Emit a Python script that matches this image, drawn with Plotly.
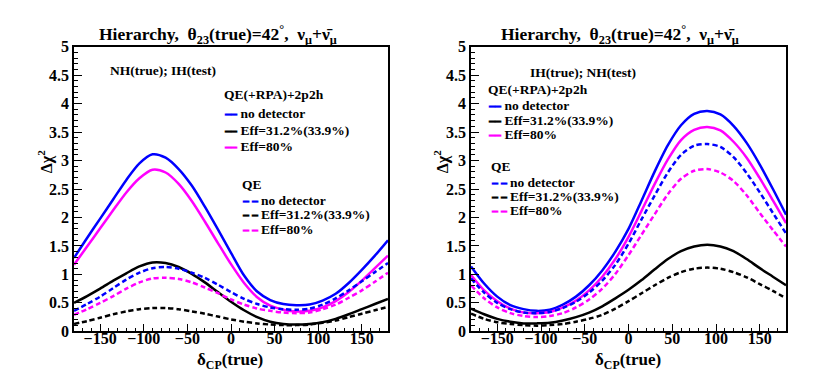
import plotly.graph_objects as go

# delta_CP(true) sample points, degrees
delta_cp = [-180, -165, -150, -135, -120, -105, -90, -75, -60, -45, -30, -15, 0,
            15, 30, 45, 60, 75, 90, 105, 120, 135, 150, 165, 180]

# left panel: NH(true); IH(test)
nh_full_nodet = [1.29, 1.64, 1.98, 2.32, 2.66, 2.95, 3.11, 3.05, 2.85, 2.56, 2.19, 1.79, 1.38,
                 0.98, 0.70, 0.55, 0.48, 0.46, 0.47, 0.54, 0.66, 0.85, 1.08, 1.33, 1.60]
nh_full_eff31 = [0.50, 0.62, 0.75, 0.89, 1.02, 1.14, 1.21, 1.20, 1.13, 1.01, 0.86, 0.69, 0.52,
                 0.37, 0.25, 0.17, 0.13, 0.12, 0.13, 0.16, 0.22, 0.30, 0.39, 0.48, 0.57]
nh_full_eff80 = [1.17, 1.49, 1.81, 2.13, 2.44, 2.69, 2.84, 2.79, 2.59, 2.29, 1.93, 1.55, 1.18,
                 0.85, 0.60, 0.45, 0.38, 0.35, 0.36, 0.42, 0.53, 0.69, 0.89, 1.11, 1.33]
nh_qe_nodet = [0.36, 0.48, 0.61, 0.76, 0.91, 1.03, 1.11, 1.13, 1.10, 1.03, 0.94, 0.82, 0.69,
               0.57, 0.48, 0.42, 0.39, 0.38, 0.40, 0.47, 0.58, 0.72, 0.88, 1.04, 1.20]
nh_qe_eff31 = [0.13, 0.18, 0.24, 0.30, 0.35, 0.39, 0.41, 0.41, 0.39, 0.35, 0.31, 0.26, 0.21,
               0.17, 0.14, 0.12, 0.11, 0.11, 0.12, 0.15, 0.19, 0.25, 0.31, 0.37, 0.43]
nh_qe_eff80 = [0.29, 0.39, 0.50, 0.62, 0.75, 0.86, 0.93, 0.94, 0.92, 0.86, 0.77, 0.67, 0.56,
               0.47, 0.40, 0.36, 0.33, 0.32, 0.33, 0.39, 0.47, 0.59, 0.72, 0.87, 1.03]

# right panel: IH(true); NH(test)
ih_full_nodet = [1.14, 0.84, 0.61, 0.46, 0.39, 0.36, 0.38, 0.47, 0.61, 0.81, 1.07, 1.40, 1.80,
                 2.30, 2.81, 3.27, 3.62, 3.82, 3.87, 3.81, 3.61, 3.31, 2.93, 2.50, 2.05]
ih_full_eff31 = [0.40, 0.30, 0.22, 0.17, 0.14, 0.14, 0.15, 0.19, 0.25, 0.33, 0.44, 0.58, 0.73,
                 0.90, 1.09, 1.27, 1.41, 1.49, 1.52, 1.49, 1.41, 1.27, 1.11, 0.96, 0.81]
ih_full_eff80 = [0.99, 0.72, 0.53, 0.40, 0.33, 0.32, 0.34, 0.42, 0.54, 0.72, 0.96, 1.27, 1.66,
                 2.12, 2.59, 3.02, 3.36, 3.54, 3.59, 3.53, 3.33, 3.05, 2.69, 2.30, 1.90]
ih_qe_nodet = [0.93, 0.68, 0.50, 0.39, 0.33, 0.32, 0.34, 0.41, 0.52, 0.68, 0.89, 1.17, 1.54,
               1.97, 2.39, 2.79, 3.10, 3.26, 3.29, 3.24, 3.06, 2.78, 2.44, 2.08, 1.72]
ih_qe_eff31 = [0.31, 0.22, 0.16, 0.13, 0.11, 0.10, 0.11, 0.13, 0.17, 0.22, 0.29, 0.40, 0.53,
               0.67, 0.81, 0.94, 1.04, 1.10, 1.12, 1.10, 1.04, 0.95, 0.83, 0.71, 0.58]
ih_qe_eff80 = [0.81, 0.58, 0.42, 0.32, 0.27, 0.25, 0.27, 0.32, 0.42, 0.56, 0.75, 1.01, 1.34,
               1.70, 2.06, 2.41, 2.68, 2.82, 2.85, 2.79, 2.64, 2.39, 2.08, 1.78, 1.49]

legend_labels = ["no detector", "Eff=31.2%(33.9%)", "Eff=80%"]

BLUE = "#0000ff"
MAGENTA = "#ff00ff"
BLACK = "#000000"
DASH = "5px,3px"
SERIF = "Liberation Serif, Times New Roman, Times, serif"

fig = go.Figure()

panels = [
    ("x", "y", [
        (nh_full_nodet, BLUE, "solid"), (nh_full_eff31, BLACK, "solid"), (nh_full_eff80, MAGENTA, "solid"),
        (nh_qe_nodet, BLUE, DASH), (nh_qe_eff31, BLACK, DASH), (nh_qe_eff80, MAGENTA, DASH),
    ]),
    ("x2", "y2", [
        (ih_full_nodet, BLUE, "solid"), (ih_full_eff31, BLACK, "solid"), (ih_full_eff80, MAGENTA, "solid"),
        (ih_qe_nodet, BLUE, DASH), (ih_qe_eff31, BLACK, DASH), (ih_qe_eff80, MAGENTA, DASH),
    ]),
]
for xa, ya, series in panels:
    for vals, color, dash in series:
        fig.add_trace(go.Scatter(
            x=delta_cp, y=vals, xaxis=xa, yaxis=ya, mode="lines",
            line=dict(color=color, width=2.5, dash=dash, shape="spline", smoothing=0.8),
            showlegend=False, hoverinfo="skip",
        ))

tickfont = dict(family=SERIF, size=16, color="black", weight="bold")
xcommon = dict(
    range=[-180, 180], tick0=0, dtick=50, ticks="inside", ticklen=8, tickwidth=1,
    tickcolor="black", showline=True, linecolor="black", linewidth=1.5, mirror=True,
    showgrid=False, zeroline=False, tickfont=tickfont, ticklabelstandoff=-8,
    minor=dict(dtick=10, ticks="inside", ticklen=4, tickcolor="black"),
)
ycommon = dict(
    range=[0, 5], tick0=0, dtick=0.5, ticks="inside", ticklen=8, tickwidth=1,
    tickcolor="black", showline=True, linecolor="black", linewidth=1.5, mirror=True,
    showgrid=False, zeroline=False, tickfont=tickfont, domain=[0.136, 0.916],
    minor=dict(dtick=0.1, ticks="inside", ticklen=4, tickcolor="black"),
)

fig.update_layout(
    width=817, height=382,
    margin=dict(l=0, r=0, t=0, b=0),
    paper_bgcolor="white", plot_bgcolor="white",
    xaxis=dict(domain=[0.0808, 0.4651], anchor="y", **xcommon),
    yaxis=dict(anchor="x", **ycommon),
    xaxis2=dict(domain=[0.5667, 0.9523], anchor="y2", **xcommon),
    yaxis2=dict(anchor="x2", **ycommon),
)

title_txt = "Hierarchy,  θ<sub>23</sub>(true)=42<sup>°</sup>,  ν<sub>μ</sub>+ν̄<sub>μ</sub>"


def note(text, x, y, size=13.5, xanchor="left", angle=0):
    fig.add_annotation(text=text, x=x / 817, y=1 - y / 382, xref="paper", yref="paper",
                       xanchor=xanchor, yanchor="middle", showarrow=False,
                       font=dict(family=SERIF, size=size, color="black", weight="bold"),
                       textangle=angle)


# titles and axis labels
for cx in (210, 612):
    note(title_txt, cx, 19, size=17.5, xanchor="center")
for cx in (222, 620):
    note("δ<sub>CP</sub>(true)", cx, 361, size=17, xanchor="center")
for cx in (37, 433):
    note("Δχ<sup>2</sup>", cx, 153, size=16, xanchor="center", angle=-90)

note("NH(true); IH(test)", 100, 57)
note("IH(true); NH(test)", 520, 59)


def legend_block(x0, y_head, y_items, solid):
    note("QE(+RPA)+2p2h" if solid else "QE", x0, y_head)
    mark = "━━" if solid else "━ ━"
    for lab, col, yy in zip(legend_labels, [BLUE, BLACK, MAGENTA], y_items):
        note(f'<span style="color:{col};font-size:10px">{mark}</span> {lab}', x0, yy)


legend_block(214, 82, [102, 120, 137], True)
legend_block(232, 176, [193, 208, 223], False)
legend_block(478, 77, [94, 109, 124], True)
legend_block(481, 157, [174, 189, 204], False)

fig.write_html("out.html")
